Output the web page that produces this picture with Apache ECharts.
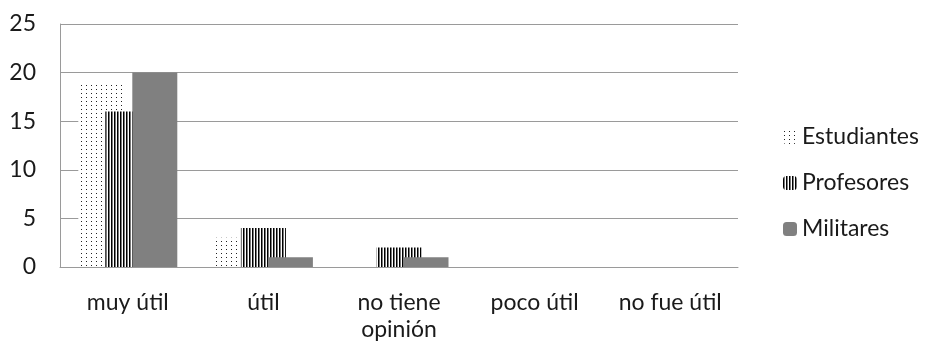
<!DOCTYPE html>
<html>
<head>
<meta charset="utf-8">
<script src="https://cdn.jsdelivr.net/npm/echarts@6/dist/echarts.min.js"></script>
<style>
  html, body { margin: 0; padding: 0; background: #fff; }
  #chart { width: 928px; height: 346px; }
</style>
</head>
<body>
<div id="chart"></div>
<script>
var categories = ['muy útil', 'útil', 'no tiene\nopinión', 'poco útil', 'no fue útil'];
var seriesNames = ['Estudiantes', 'Profesores', 'Militares'];
var estudiantes = [19, 3, 0, 0, 0];
var profesores = [16, 4, 2, 0, 0];
var militares = [20, 1, 1, 0, 0];
var yTicks = [0, 5, 10, 15, 20, 25];

// relleno punteado (Estudiantes)
function dotPattern() {
    var c = document.createElement('canvas');
    c.width = 5; c.height = 4;
    var ctx = c.getContext('2d');
    ctx.fillStyle = '#fff';
    ctx.fillRect(0, 0, 5, 4);
    ctx.fillStyle = '#222';
    ctx.fillRect(1, 1, 1, 1);
    return { image: c, repeat: 'repeat' };
}

// rayas verticales (Profesores)
function stripePattern() {
    var c = document.createElement('canvas');
    c.width = 3; c.height = 2;
    var ctx = c.getContext('2d');
    ctx.fillStyle = '#000';
    ctx.fillRect(0, 0, 1, 2);
    ctx.fillStyle = '#7a7a7a';
    ctx.fillRect(1, 0, 1, 2);
    ctx.fillStyle = '#fff';
    ctx.fillRect(2, 0, 1, 2);
    return { image: c, repeat: 'repeat' };
}

var font = 'Lato';
var myChart = echarts.init(document.getElementById('chart'), null, { renderer: 'canvas' });

var option = {
    animation: false,
    textStyle: { fontFamily: font },
    grid: { left: 60, right: 190, top: 24, bottom: 79 },
    legend: {
        orient: 'vertical',
        left: 778,
        top: 120,
        itemWidth: 14,
        itemHeight: 14,
        itemGap: 22,
        data: seriesNames,
        textStyle: { fontFamily: font, fontSize: 23, color: '#1a1a1a', lineHeight: 24, padding: [0, 0, 0, 0] }
    },
    xAxis: {
        type: 'category',
        data: categories,
        axisLine: { lineStyle: { color: '#9a9a9a', width: 1 } },
        axisTick: { show: false },
        axisLabel: { fontFamily: font, fontSize: 23, color: '#1a1a1a', margin: 22, lineHeight: 27, interval: 0 }
    },
    yAxis: {
        type: 'value',
        min: 0,
        max: 25,
        interval: 5,
        axisLine: { show: true, lineStyle: { color: '#9a9a9a', width: 1 } },
        axisTick: { show: false },
        splitLine: { lineStyle: { color: '#9a9a9a', width: 1 } },
        axisLabel: {
            fontFamily: font, fontSize: 23, color: '#1a1a1a', margin: 24,
            formatter: function (v) { return yTicks.indexOf(v) >= 0 ? String(v) : ''; }
        }
    },
    series: [
        {
            name: seriesNames[0], type: 'bar', data: estudiantes,
            barWidth: 45, barGap: '-40%',
            itemStyle: { color: dotPattern() }
        },
        {
            name: seriesNames[1], type: 'bar', data: profesores,
            barWidth: 45, barGap: '-40%',
            itemStyle: { color: stripePattern() }
        },
        {
            name: seriesNames[2], type: 'bar', data: militares,
            barWidth: 45, barGap: '-40%',
            itemStyle: { color: '#808080' }
        }
    ]
};

myChart.setOption(option);
</script>
</body>
</html>
